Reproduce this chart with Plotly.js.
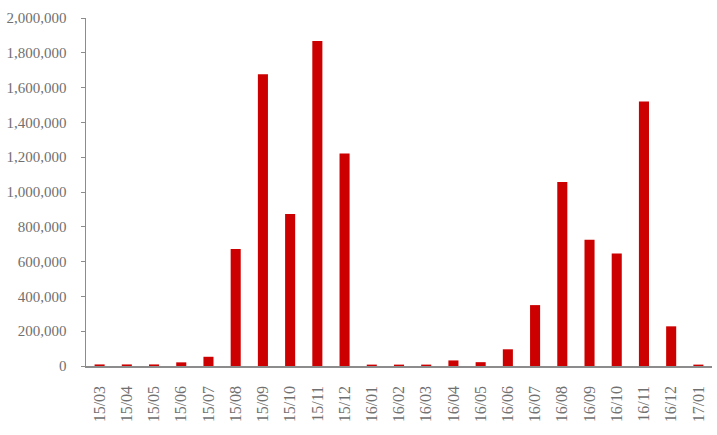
<!DOCTYPE html>
<html>
<head>
<meta charset="utf-8">
<script src="https://cdn.plot.ly/plotly-3.0.1.min.js"></script>
<style>html,body{margin:0;padding:0;background:#fff;}#chart{width:717px;height:435px;}</style>
</head>
<body>
<div id="chart"></div>
<script>
const categories = ["15/03","15/04","15/05","15/06","15/07","15/08","15/09","15/10","15/11","15/12",
  "16/01","16/02","16/03","16/04","16/05","16/06","16/07","16/08","16/09","16/10","16/11","16/12","17/01"];
const values = [9000, 9000, 9000, 21000, 53000, 673000, 1677000, 873000, 1868000, 1221000,
  8000, 8000, 8000, 32000, 22000, 96000, 350000, 1057000, 725000, 647000, 1520000, 228000, 8000];
const yTickVals = [0, 200000, 400000, 600000, 800000, 1000000, 1200000, 1400000, 1600000, 1800000, 2000000];

const trace = {
  type: 'bar',
  x: categories,
  y: values,
  marker: {color: '#CC0000'},
  hoverinfo: 'x+y'
};
const yFont = {family: 'Liberation Serif', size: 15, color: '#707070'};
const xFont = {family: 'Liberation Serif', size: 16, color: '#707070'};
const layout = {
  width: 717, height: 435,
  margin: {l: 86, r: 5, t: 18, b: 69, pad: 0},
  paper_bgcolor: '#fff', plot_bgcolor: '#fff',
  bargap: 0.63,
  showlegend: false,
  font: yFont,
  xaxis: {
    type: 'category',
    tickangle: -90,
    showline: true, linecolor: '#8c8c8c', linewidth: 1.5,
    ticks: 'outside', ticklen: 8, tickcolor: 'rgba(0,0,0,0)',
    showgrid: false, zeroline: false,
    tickfont: xFont,
    ticksuffix: '\u00a0'
  },
  yaxis: {
    range: [0, 2000000],
    tickvals: yTickVals,
    tickformat: ',d',
    showline: true, linecolor: '#8c8c8c', linewidth: 1.5,
    ticks: 'outside', ticklen: 4, tickcolor: '#8c8c8c', tickwidth: 1,
    showgrid: false, zeroline: false,
    tickfont: yFont,
    ticklabelstandoff: 11
  }
};
Plotly.newPlot('chart', [trace], layout, {displayModeBar: false, staticPlot: true});
</script>
</body>
</html>
